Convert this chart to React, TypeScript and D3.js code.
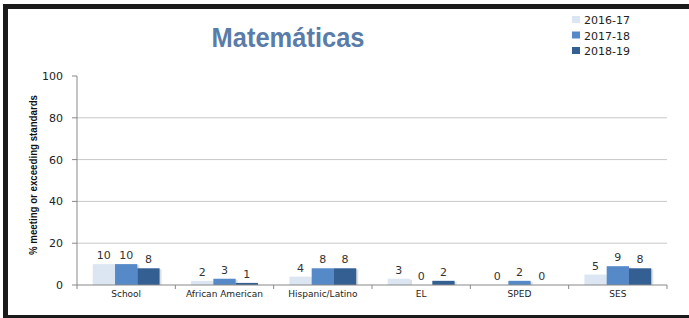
import React from 'react';
import * as d3 from 'd3';

const categories = ['School', 'African American', 'Hispanic/Latino', 'EL', 'SPED', 'SES'];
const years = ['2016-17', '2017-18', '2018-19'];
const values2016 = [10, 2, 4, 3, 0, 5];
const values2017 = [10, 3, 8, 0, 2, 9];
const values2018 = [8, 1, 8, 2, 0, 8];
const yTicks = [0, 20, 40, 60, 80, 100];

const colors = ['#dce6f2', '#5689c8', '#335f92'];

const App = () => {
  const width = 689;
  const height = 318;
  const left = 77, right = 667, top = 76, bottom = 285;

  const series = [values2016, values2017, values2018];

  const x0 = d3.scaleBand<string>().domain(categories).range([left, right]).paddingInner(0.32).paddingOuter(0.16);
  const x1 = d3.scaleBand<string>().domain(years).range([0, x0.bandwidth()]);
  const y = d3.scaleLinear().domain([0, 100]).range([bottom, top]);

  const step = (right - left) / categories.length;

  return (
    <svg width={width} height={height} style={{ position: 'absolute', left: 0, top: 0, background: '#fff' }}>
      {/* frame */}
      <rect x={3} y={4} width={width - 3} height={5} fill="#1a1a1a" />
      <rect x={3} y={4} width={5} height={height - 4} fill="#1a1a1a" />
      <rect x={3} y={315} width={width - 3} height={3} fill="#1a1a1a" />

      <text x={288} y={47} textAnchor="middle" fontFamily="Liberation Sans, Arial, sans-serif" fontWeight="bold"
        fontSize={28} fill="#5a7ca8" textLength={153} lengthAdjust="spacingAndGlyphs">Matemáticas</text>

      {/* legend */}
      {years.map((yr, i) => (
        <g key={yr} transform={`translate(572,${20 + i * 15.5})`}>
          <rect x={0} y={-4} width={8} height={7} fill={colors[i]} />
          <text x={12} y={4} fontFamily="DejaVu Sans, Verdana, sans-serif" fontSize={11} fill="#222">{yr}</text>
        </g>
      ))}

      {/* gridlines */}
      {yTicks.filter(t => t > 0 && t < 100).map(t => (
        <line key={t} x1={left} x2={right} y1={y(t)} y2={y(t)} stroke="#c8c8c8" strokeWidth={1} />
      ))}

      {/* y axis */}
      <line x1={left} x2={left} y1={top} y2={bottom} stroke="#888" />
      {yTicks.map(t => (
        <g key={t}>
          <line x1={left - 5} x2={left} y1={y(t)} y2={y(t)} stroke="#888" />
          <text x={63} y={y(t) + 4} textAnchor="end" fontFamily="DejaVu Sans, Verdana, sans-serif" fontSize={11} fill="#222">{t}</text>
        </g>
      ))}
      <text transform="translate(37,175) rotate(-90)" textAnchor="middle"
        fontFamily="Liberation Sans Narrow, Arial Narrow, sans-serif" fontWeight="bold" fontSize={11.5} fill="#111"
        textLength={160} lengthAdjust="spacingAndGlyphs">
        % meeting or exceeding standards
      </text>

      {/* bars */}
      {categories.map((c, ci) => (
        <g key={c} transform={`translate(${x0(c)},0)`}>
          {years.map((yr, si) => {
            const v = series[si][ci];
            const bx = x1(yr) as number;
            const bw = x1.bandwidth();
            return (
              <g key={yr}>
                {v > 0 && <rect x={bx + 2} y={y(v) + 1} width={bw} height={bottom - y(v) - 1} fill="#000" opacity={0.12} />}
                {v > 0 && <rect x={bx} y={y(v)} width={bw} height={bottom - y(v)} fill={colors[si]} />}
                <text x={bx + bw / 2} y={y(v) - 5} textAnchor="middle" fontFamily="DejaVu Sans, Verdana, sans-serif"
                  fontSize={11} fill="#333">{v}</text>
              </g>
            );
          })}
        </g>
      ))}

      {/* x axis */}
      <line x1={left} x2={right} y1={bottom} y2={bottom} stroke="#888" />
      {d3.range(categories.length + 1).map(i => (
        <line key={i} x1={left + i * step} x2={left + i * step} y1={bottom} y2={bottom + 4} stroke="#888" />
      ))}
      {categories.map(c => (
        <text key={c} x={(x0(c) as number) + x0.bandwidth() / 2} y={297} textAnchor="middle"
          fontFamily="DejaVu Sans, Verdana, sans-serif" fontSize={9} fill="#222">{c}</text>
      ))}
    </svg>
  );
};

export default App;
